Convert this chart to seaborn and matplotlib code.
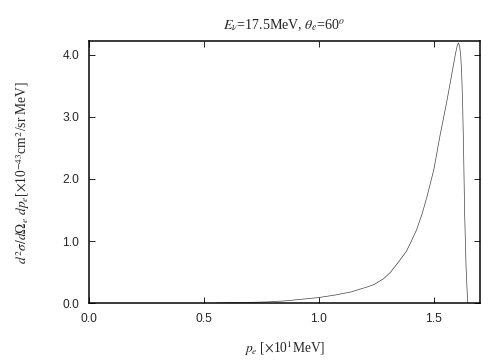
import numpy as np
import pandas as pd
import matplotlib
matplotlib.use("Agg")
import matplotlib.pyplot as plt
import seaborn as sns
from matplotlib.ticker import FormatStrFormatter

# electron momentum [x10 MeV] and cross section [x1e-43 cm^2/sr MeV]
p_e = [0.55, 0.60, 0.70, 0.78, 0.85, 0.92, 1.00, 1.07, 1.14, 1.21, 1.24,
       1.28, 1.31, 1.35, 1.38, 1.40, 1.425, 1.45, 1.47, 1.50, 1.526, 1.555,
       1.57, 1.584, 1.595, 1.602, 1.607, 1.612, 1.617, 1.621, 1.625, 1.629,
       1.634, 1.640, 1.646, 1.648]
xsec = [0.0, 0.005, 0.012, 0.02, 0.035, 0.06, 0.09, 0.13, 0.18, 0.26, 0.30,
        0.39, 0.49, 0.68, 0.83, 0.98, 1.18, 1.45, 1.71, 2.15, 2.68, 3.22,
        3.52, 3.81, 4.03, 4.15, 4.19, 4.14, 3.98, 3.70, 3.25, 2.55,
        1.45, 0.60, 0.10, 0.0]

x_ticks = [0.0, 0.5, 1.0, 1.5]
y_ticks = [0.0, 1.0, 2.0, 3.0, 4.0]

df = pd.DataFrame({"p": p_e, "xs": xsec})

sns.set_style("ticks")
plt.rcParams["font.family"] = ["Liberation Sans", "DejaVu Sans"]
plt.rcParams["mathtext.fontset"] = "stix"

fig = plt.figure(figsize=(7, 5), dpi=72)
ax = fig.add_axes([0.1766, 0.158, 0.7754, 0.728])

sns.lineplot(data=df, x="p", y="xs", ax=ax, color="#444444", linewidth=0.7,
             sort=False)

ax.set_xlim(0, 1.7)
ax.set_ylim(0, 4.22)
ax.set_xticks(x_ticks)
ax.set_yticks(y_ticks)
ax.xaxis.set_major_formatter(FormatStrFormatter("%.1f"))
ax.yaxis.set_major_formatter(FormatStrFormatter("%.1f"))
ax.tick_params(direction="in", top=True, right=True, length=6, width=1,
               labelsize=12, pad=10)
for s in ax.spines.values():
    s.set_linewidth(1.5)
    s.set_color("black")

serif = ["Liberation Serif", "DejaVu Serif"]
ax.set_title(r"$E_\nu$=17.5MeV, $\theta_e$=60$^o$", family=serif,
             fontsize=14, pad=12)
ax.set_xlabel(r"$p_e$ [$\times$10$^1$MeV]", family=serif, fontsize=13.5,
              labelpad=13)
ax.set_ylabel(r"$d^2\sigma/d\Omega_e\ dp_e$[$\times$10$^{-43}$cm$^2$/sr MeV]",
              family=serif, fontsize=13.5, labelpad=30)

fig.savefig("out.png", dpi=72)
